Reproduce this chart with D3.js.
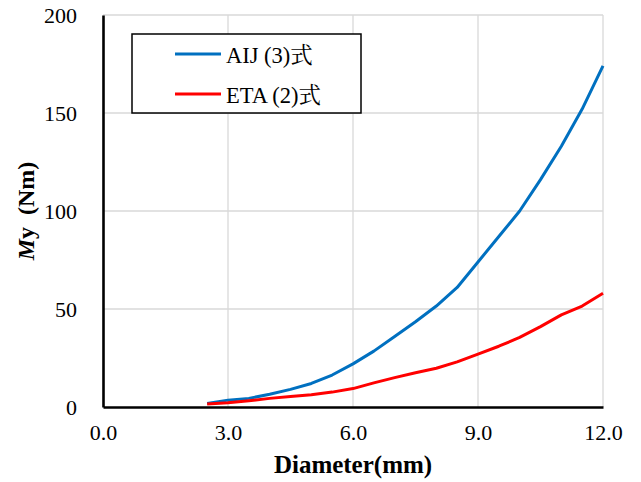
<!DOCTYPE html>
<html>
<head>
<meta charset="utf-8">
<script src="https://cdn.jsdelivr.net/npm/d3@7"></script>
<style>
  body { margin: 0; background: #fff; }
</style>
</head>
<body>
<div id="chart"></div>
<script>
const diameters = [2.5, 3, 3.5, 4, 4.5, 5, 5.5, 6, 6.5, 7, 7.5, 8, 8.5, 9, 9.5, 10, 10.5, 11, 11.5, 12];
const aijValues = [1.8, 3.5, 4.4, 6.5, 9, 12, 16.3, 22, 28.5, 36, 43.5, 51.5, 61, 74, 87, 100, 116, 133, 152, 174];
const etaValues = [1.5, 2.2, 3.2, 4.4, 5.4, 6.3, 7.6, 9.4, 12.3, 15, 17.5, 19.8, 23, 27, 31, 35.5, 41, 47, 51.5, 58];
const xTicks = [0, 3, 6, 9, 12];
const yTicks = [0, 50, 100, 150, 200];

const series = [
  { name: 'AIJ (3)式', values: aijValues, color: '#0070C0' },
  { name: 'ETA (2)式', values: etaValues, color: '#FF0000' },
];

const font = '"Liberation Serif", "Noto Serif CJK JP", serif';
const width = 641;
const height = 482;
const margin = { top: 15, right: 38, bottom: 75, left: 103 };

const usableArea = {
  left: margin.left,
  top: margin.top,
  right: width - margin.right,
  bottom: height - margin.bottom,
};

const svg = d3
  .select('#chart')
  .append('svg')
  .attr('width', width)
  .attr('height', height)
  .attr('font-family', font);

const xScale = d3.scaleLinear().domain([0, 12]).range([usableArea.left, usableArea.right]);
const yScale = d3.scaleLinear().domain([0, 200]).range([usableArea.bottom, usableArea.top]);

// gridlines
svg
  .append('g')
  .selectAll('line')
  .data(yTicks.slice(1))
  .join('line')
  .attr('x1', usableArea.left)
  .attr('x2', usableArea.right)
  .attr('y1', (d) => yScale(d))
  .attr('y2', (d) => yScale(d))
  .attr('stroke', '#d9d9d9')
  .attr('stroke-width', 1.3);

svg
  .append('g')
  .selectAll('line')
  .data(xTicks.slice(1))
  .join('line')
  .attr('x1', (d) => xScale(d))
  .attr('x2', (d) => xScale(d))
  .attr('y1', usableArea.top)
  .attr('y2', usableArea.bottom)
  .attr('stroke', '#d9d9d9')
  .attr('stroke-width', 1.3);

// axes
const xAxis = svg
  .append('g')
  .attr('transform', `translate(0, ${usableArea.bottom})`)
  .call(d3.axisBottom(xScale).tickValues(xTicks).tickFormat(d3.format('.1f')).tickSize(0).tickPadding(17));

const yAxis = svg
  .append('g')
  .attr('transform', `translate(${usableArea.left}, 0)`)
  .call(d3.axisLeft(yScale).tickValues(yTicks).tickSize(0).tickPadding(26));

[xAxis, yAxis].forEach((g) => {
  g.attr('font-family', font).attr('font-size', 22);
  g.select('.domain').attr('stroke', '#000').attr('stroke-width', 2.6);
  g.selectAll('text').attr('fill', '#000');
});

// lines
const line = d3
  .line()
  .x((d, i) => xScale(diameters[i]))
  .y((d) => yScale(d));

svg
  .append('g')
  .selectAll('path')
  .data(series)
  .join('path')
  .attr('d', (d) => line(d.values))
  .attr('fill', 'none')
  .attr('stroke', (d) => d.color)
  .attr('stroke-width', 3)
  .attr('stroke-linejoin', 'round');

// legend
const legend = svg.append('g').attr('transform', 'translate(132, 34)');

legend
  .append('rect')
  .attr('width', 229)
  .attr('height', 79)
  .attr('fill', '#fff')
  .attr('stroke', '#000')
  .attr('stroke-width', 1.5);

const items = legend
  .selectAll('g')
  .data(series)
  .join('g')
  .attr('transform', (d, i) => `translate(0, ${20 + i * 40})`);

items
  .append('line')
  .attr('x1', 43)
  .attr('x2', 89)
  .attr('stroke', (d) => d.color)
  .attr('stroke-width', 3);

items
  .append('text')
  .attr('x', 94)
  .attr('y', 9)
  .attr('font-size', 22.5)
  .text((d) => d.name);

// axis titles
svg
  .append('text')
  .attr('x', (usableArea.left + usableArea.right) / 2)
  .attr('y', 473)
  .attr('text-anchor', 'middle')
  .attr('font-size', 25)
  .attr('font-weight', 'bold')
  .text('Diameter(mm)');

const yTitle = svg
  .append('text')
  .attr('transform', `translate(34, ${(usableArea.top + usableArea.bottom) / 2}) rotate(-90)`)
  .attr('text-anchor', 'middle')
  .attr('font-size', 24)
  .attr('font-weight', 'bold');

yTitle.append('tspan').attr('font-style', 'italic').text('M');
yTitle.append('tspan').text('y\u00a0\u00a0(Nm)');
</script>
</body>
</html>
